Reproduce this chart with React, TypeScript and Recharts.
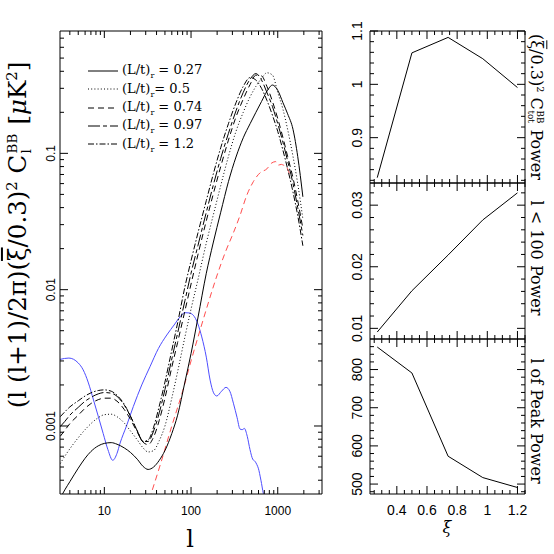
import React from 'react';
import { LineChart, Line, XAxis, YAxis, Legend } from 'recharts';

// multipoles shared by the five (L/t)_r curves
const ells = [3.1, 3.5, 4, 5, 6, 7, 8.5, 10, 12, 14, 17, 20, 24, 28, 32, 37, 43, 50, 60, 70, 85, 100, 120, 150, 180, 220, 270, 330, 400, 480, 560, 650, 750, 870, 1000, 1150, 1300, 1500, 1700, 1950];
const lt027 = [2.95e-4, 3.4e-4, 3.9e-4, 4.9e-4, 5.8e-4, 6.5e-4, 7.15e-4, 7.45e-4, 7.55e-4, 7.35e-4, 6.9e-4, 6.4e-4, 5.7e-4, 5.05e-4, 4.8e-4, 5.0e-4, 5.6e-4, 6.6e-4, 8.8e-4, 1.2e-3, 2.1e-3, 3.4e-3, 6.2e-3, 0.0132, 0.022, 0.037, 0.062, 0.094, 0.13, 0.165, 0.2, 0.24, 0.285, 0.317, 0.29, 0.235, 0.195, 0.15, 0.095, 0.048];
const lt05 = [5.3e-4, 6.0e-4, 6.8e-4, 8.2e-4, 9.4e-4, 1.04e-3, 1.15e-3, 1.21e-3, 1.22e-3, 1.17e-3, 1.05e-3, 9.2e-4, 7.9e-4, 6.9e-4, 6.45e-4, 6.6e-4, 7.8e-4, 1.0e-3, 1.6e-3, 2.5e-3, 4.5e-3, 7.2e-3, 0.0118, 0.022, 0.035, 0.058, 0.095, 0.145, 0.2, 0.26, 0.31, 0.355, 0.39, 0.375, 0.28, 0.21, 0.15, 0.095, 0.06, 0.033];
const lt074 = [8.4e-4, 9.3e-4, 1.04e-3, 1.2e-3, 1.35e-3, 1.46e-3, 1.56e-3, 1.6e-3, 1.6e-3, 1.52e-3, 1.32e-3, 1.12e-3, 9.0e-4, 7.6e-4, 7.3e-4, 8.3e-4, 1.1e-3, 1.6e-3, 2.7e-3, 4.1e-3, 7.0e-3, 0.011, 0.018, 0.032, 0.05, 0.08, 0.125, 0.185, 0.25, 0.32, 0.375, 0.37, 0.31, 0.24, 0.18, 0.13, 0.095, 0.066, 0.045, 0.028];
const lt097 = [9.9e-4, 1.08e-3, 1.2e-3, 1.37e-3, 1.52e-3, 1.62e-3, 1.72e-3, 1.76e-3, 1.74e-3, 1.65e-3, 1.42e-3, 1.18e-3, 9.2e-4, 7.7e-4, 7.7e-4, 9.2e-4, 1.25e-3, 1.85e-3, 3.1e-3, 4.8e-3, 8.3e-3, 0.0132, 0.021, 0.037, 0.058, 0.092, 0.14, 0.205, 0.28, 0.35, 0.385, 0.345, 0.28, 0.22, 0.165, 0.12, 0.088, 0.06, 0.04, 0.025];
const lt12 = [1.17e-3, 1.27e-3, 1.38e-3, 1.53e-3, 1.66e-3, 1.75e-3, 1.82e-3, 1.84e-3, 1.8e-3, 1.68e-3, 1.44e-3, 1.18e-3, 9.2e-4, 7.7e-4, 7.9e-4, 9.8e-4, 1.4e-3, 2.1e-3, 3.6e-3, 5.7e-3, 0.0105, 0.0163, 0.026, 0.045, 0.07, 0.11, 0.165, 0.235, 0.31, 0.36, 0.345, 0.3, 0.245, 0.19, 0.145, 0.105, 0.077, 0.052, 0.035, 0.021];

// blue reference spectrum
const blueEll = [3.08, 3.9, 5, 5.7, 6.5, 7.5, 8.5, 9.7, 11, 12.5, 14, 15.2, 18, 21.6, 27, 33.6, 42, 52.5, 65, 75, 85, 95, 106, 120, 133, 150, 166, 182, 198, 225, 253, 280, 308, 340, 367, 390, 412, 445, 479, 515, 547, 575, 597, 640, 682, 720];
const blueVals = [3.08e-3, 3.15e-3, 2.9e-3, 2.58e-3, 2.1e-3, 1.55e-3, 1.18e-3, 8.8e-4, 6.7e-4, 5.6e-4, 6.3e-4, 7.5e-4, 1.0e-3, 1.39e-3, 2.0e-3, 2.72e-3, 3.7e-3, 4.65e-3, 5.6e-3, 6.34e-3, 6.78e-3, 6.75e-3, 6.5e-3, 5.6e-3, 4.5e-3, 3.2e-3, 2.17e-3, 1.75e-3, 1.66e-3, 1.8e-3, 1.92e-3, 1.8e-3, 1.47e-3, 1.15e-3, 9.5e-4, 9.4e-4, 9.6e-4, 8.4e-4, 6.7e-4, 5.7e-4, 5.5e-4, 5.2e-4, 4.9e-4, 4.0e-4, 3.2e-4, 2.8e-4];

// red dashed curve
const redEll = [33, 45, 60, 80, 100, 130, 160, 200, 250, 307, 367, 438, 523, 625, 750, 853, 950, 1016, 1100, 1161, 1250, 1387];
const redVals = [2.9e-4, 5.4e-4, 1.0e-3, 1.8e-3, 3.0e-3, 5.3e-3, 8.2e-3, 0.0128, 0.019, 0.026, 0.035, 0.049, 0.062, 0.072, 0.077, 0.085, 0.087, 0.082, 0.083, 0.082, 0.08, 0.069];

// right-hand panels
const xi = [0.27, 0.5, 0.74, 0.97, 1.2];
const totPower = [0.825, 1.059, 1.088, 1.048, 0.994];
const lowPower = [0.0094, 0.0161, 0.0219, 0.0276, 0.032];
const peakEll = [859, 791, 573, 517, 491];

const legendNames = ['0.27', '0.5', '0.74', '0.97', '1.2'];
const legendEq = [' = ', '= ', ' = ', ' = ', ' = '];
const dashes = [undefined, '1 2.2', '6 4', '12 3 4 3', '6 2 1.5 2'];

const logXTicks = [4, 5, 6, 7, 8, 9, 10, 20, 30, 40, 50, 60, 70, 80, 90, 100, 200, 300, 400, 500, 600, 700, 800, 900, 1000, 2000, 3000];
const logXMajors = [10, 100, 1000];
const logYTicks = [4e-4, 5e-4, 6e-4, 7e-4, 8e-4, 9e-4, 0.001, 0.002, 0.003, 0.004, 0.005, 0.006, 0.007, 0.008, 0.009, 0.01, 0.02, 0.03, 0.04, 0.05, 0.06, 0.07, 0.08, 0.09, 0.1, 0.2, 0.3, 0.4, 0.5, 0.6, 0.7];
const logYMajors = [0.001, 0.01, 0.1];

const xiTicks = [0.25, 0.3, 0.35, 0.4, 0.45, 0.5, 0.55, 0.6, 0.65, 0.7, 0.75, 0.8, 0.85, 0.9, 0.95, 1, 1.05, 1.1, 1.15, 1.2, 1.25];
const xiMajors = [0.4, 0.6, 0.8, 1, 1.2];
const totTicks = [0.82, 0.84, 0.86, 0.88, 0.9, 0.92, 0.94, 0.96, 0.98, 1, 1.02, 1.04, 1.06, 1.08, 1.1];
const totMajors = [0.9, 1, 1.1];
const lowTicks = [0.01, 0.012, 0.014, 0.016, 0.018, 0.02, 0.022, 0.024, 0.026, 0.028, 0.03, 0.032];
const lowMajors = [0.01, 0.02, 0.03];
const peakTicks = [480, 500, 520, 540, 560, 580, 600, 620, 640, 660, 680, 700, 720, 740, 760, 780, 800, 820, 840, 860];
const peakMajors = [500, 600, 700, 800];

const blackData = ells.map((l, i) => ({ l, a: lt027[i], b: lt05[i], c: lt074[i], d: lt097[i], e: lt12[i] }));
const blueData = blueEll.map((l, i) => ({ l, v: blueVals[i] }));
const redData = redEll.map((l, i) => ({ l, v: redVals[i] }));
const xiData = xi.map((x, i) => ({ x, tot: totPower[i], low: lowPower[i], peak: peakEll[i] }));

const SANS = '"Liberation Sans", Arial, sans-serif';
const SERIF = '"DejaVu Serif", serif';

const isIn = (v: number, arr: number[]) => arr.some((m) => Math.abs(m - v) <= 1e-6 * Math.abs(m));

type TickOpts = {
  side: 'bottom' | 'top' | 'left' | 'right';
  majors: number[];
  big: number;
  small: number;
  label?: boolean;
  offset?: number;
  fontSize?: number;
};

// tick marks point into the frame, labels sit outside it
function makeTick(o: TickOpts) {
  return (p: any) => {
    const { x, y, payload } = p;
    const v = payload.value;
    const major = isIn(v, o.majors);
    const len = major ? o.big : o.small;
    let x2 = x;
    let y2 = y;
    if (o.side === 'bottom') y2 = y - len;
    if (o.side === 'top') y2 = y + len;
    if (o.side === 'left') x2 = x + len;
    if (o.side === 'right') x2 = x - len;
    let text = null;
    if (o.label && major) {
      if (o.side === 'bottom') {
        text = (
          <text x={x} y={y + (o.offset || 20)} textAnchor="middle" fontSize={o.fontSize || 12} fontFamily={SANS} fill="#000">
            {String(v)}
          </text>
        );
      } else if (o.side === 'left') {
        const tx = x - (o.offset || 6);
        text = (
          <text x={tx} y={y} transform={`rotate(-90 ${tx} ${y})`} textAnchor="middle" fontSize={o.fontSize || 12} fontFamily={SANS} fill="#000">
            {String(v)}
          </text>
        );
      }
    }
    return (
      <g>
        <line x1={x} y1={y} x2={x2} y2={y2} stroke="#000" strokeWidth={1} />
        {text}
      </g>
    );
  };
}

const axisCommon = {
  tickLine: false,
  tickSize: 0,
  tickMargin: 0,
  interval: 0 as const,
  allowDataOverflow: true,
  axisLine: { stroke: '#000', strokeWidth: 1 },
};

function LegendBox() {
  return (
    <div style={{ fontFamily: SERIF, fontSize: 13, color: '#000' }}>
      {legendNames.map((n, i) => (
        <div key={n} style={{ display: 'flex', alignItems: 'center', height: 18.3, whiteSpace: 'pre' }}>
          <svg width={36} height={10}>
            <line x1={2} y1={5} x2={32} y2={5} stroke="#000" strokeWidth={1} strokeDasharray={dashes[i]} />
          </svg>
          <span>
            (L/t)<sub style={{ fontSize: 8 }}>r</sub>
            {legendEq[i]}
            {n}
          </span>
        </div>
      ))}
    </div>
  );
}

function Rot({ cx, cy, angle, children, style }: any) {
  return (
    <div
      style={{
        position: 'absolute',
        left: cx,
        top: cy,
        transform: `translate(-50%, -50%) rotate(${angle}deg)`,
        whiteSpace: 'nowrap',
        lineHeight: 1,
        color: '#000',
        ...style,
      }}
    >
      {children}
    </div>
  );
}

function Stack({ sup, sub }: { sup: string; sub: string }) {
  return (
    <span
      style={{
        display: 'inline-flex',
        flexDirection: 'column',
        fontSize: '0.55em',
        lineHeight: 1,
        verticalAlign: 'middle',
        margin: '0 0.1em',
      }}
    >
      <span>{sup}</span>
      <span>{sub}</span>
    </span>
  );
}

// axes are 1px deep, so margins are 1px short of the frame
function SidePanel({ dataKey, top, bottom, domain, yTicks, yMajors, showX }: any) {
  return (
    <div style={{ position: 'absolute', left: 0, top: 0 }}>
      <LineChart width={554} height={554} data={xiData} margin={{ top: top - 1, left: 369, right: 28, bottom: 553 - bottom }}>
        <XAxis
          xAxisId="b"
          dataKey="x"
          type="number"
          domain={[0.222, 1.25]}
          ticks={xiTicks}
          height={1}
          {...axisCommon}
          tick={makeTick({ side: 'bottom', majors: xiMajors, big: 8, small: 4, label: showX, offset: 21, fontSize: 14 })}
        />
        <XAxis
          xAxisId="t"
          orientation="top"
          dataKey="x"
          type="number"
          domain={[0.222, 1.25]}
          ticks={xiTicks}
          height={1}
          {...axisCommon}
          tick={makeTick({ side: 'top', majors: xiMajors, big: 8, small: 4 })}
        />
        <YAxis
          yAxisId="l"
          type="number"
          domain={domain}
          ticks={yTicks}
          width={1}
          {...axisCommon}
          tick={makeTick({ side: 'left', majors: yMajors, big: 8, small: 4, label: true, offset: 8, fontSize: 14 })}
        />
        <YAxis
          yAxisId="r"
          orientation="right"
          type="number"
          domain={domain}
          ticks={yTicks}
          width={1}
          {...axisCommon}
          tick={makeTick({ side: 'right', majors: yMajors, big: 8, small: 4 })}
        />
        <Line xAxisId="b" yAxisId="l" dataKey={dataKey} stroke="#000" strokeWidth={1} dot={false} isAnimationActive={false} type="linear" />
      </LineChart>
    </div>
  );
}

export default function App() {
  const lines = ['a', 'b', 'c', 'd', 'e'];
  return (
    <div style={{ position: 'absolute', left: 0, top: 0, width: 554, height: 554, background: '#fff', overflow: 'hidden' }}>
      <div style={{ position: 'absolute', left: 0, top: 0 }}>
        <LineChart width={554} height={554} data={blackData} margin={{ top: 30, left: 59, right: 231, bottom: 59 }}>
          <XAxis
            xAxisId="b"
            dataKey="l"
            type="number"
            scale="log"
            domain={[3.08, 3240]}
            ticks={logXTicks}
            height={1}
            {...axisCommon}
            tick={makeTick({ side: 'bottom', majors: logXMajors, big: 7, small: 4, label: true, offset: 21, fontSize: 12 })}
          />
          <XAxis
            xAxisId="t"
            orientation="top"
            dataKey="l"
            type="number"
            scale="log"
            domain={[3.08, 3240]}
            ticks={logXTicks}
            height={1}
            {...axisCommon}
            tick={makeTick({ side: 'top', majors: logXMajors, big: 7, small: 4 })}
          />
          <YAxis
            yAxisId="l"
            type="number"
            scale="log"
            domain={[3.17e-4, 0.79]}
            ticks={logYTicks}
            width={1}
            {...axisCommon}
            tick={makeTick({ side: 'left', majors: logYMajors, big: 8, small: 4, label: true, offset: 5, fontSize: 12 })}
          />
          <YAxis
            yAxisId="r"
            orientation="right"
            type="number"
            scale="log"
            domain={[3.17e-4, 0.79]}
            ticks={logYTicks}
            width={1}
            {...axisCommon}
            tick={makeTick({ side: 'right', majors: logYMajors, big: 8, small: 4 })}
          />
          <Line xAxisId="b" yAxisId="l" data={blueData} dataKey="v" stroke="#4d4dff" strokeWidth={1} dot={false} isAnimationActive={false} type="monotone" legendType="none" />
          <Line xAxisId="b" yAxisId="l" data={redData} dataKey="v" stroke="#ff4d4d" strokeWidth={1} strokeDasharray="6 4" dot={false} isAnimationActive={false} type="monotone" legendType="none" />
          {lines.map((k, i) => (
            <Line
              key={k}
              xAxisId="b"
              yAxisId="l"
              dataKey={k}
              name={legendNames[i]}
              stroke="#000"
              strokeWidth={1}
              strokeDasharray={dashes[i]}
              dot={false}
              isAnimationActive={false}
              type="monotone"
            />
          ))}
          <Legend
            layout="vertical"
            verticalAlign="middle"
            align="center"
            wrapperStyle={{ left: 86, top: 62, width: 170, height: 95 }}
            content={() => <LegendBox />}
          />
        </LineChart>
      </div>

      <SidePanel dataKey="tot" top={31} bottom={183} domain={[0.815, 1.1]} yTicks={totTicks} yMajors={totMajors} showX={false} />
      <SidePanel dataKey="low" top={183} bottom={339} domain={[0.00827, 0.0336]} yTicks={lowTicks} yMajors={lowMajors} showX={false} />
      <SidePanel dataKey="peak" top={339} bottom={494} domain={[474, 880]} yTicks={peakTicks} yMajors={peakMajors} showX={true} />

      <Rot cx={19} cy={235} angle={-90} style={{ fontFamily: SERIF, fontSize: 24.5 }}>
        (l (l+1)/2π)(<span style={{ textDecoration: 'overline' }}>ξ</span>/0.3)<sup style={{ fontSize: '0.6em' }}>2</sup>
        {'  '}C<Stack sup="BB" sub="l" />{'  '}[<i>μ</i>K<sup style={{ fontSize: '0.6em' }}>2</sup>]
      </Rot>
      <Rot cx={190} cy={539} angle={0} style={{ fontFamily: SERIF, fontSize: 24 }}>
        l
      </Rot>
      <Rot cx={447} cy={528} angle={0} style={{ fontFamily: SERIF, fontSize: 16, fontStyle: 'italic' }}>
        ξ
      </Rot>
      <Rot cx={536} cy={107} angle={90} style={{ fontFamily: SERIF, fontSize: 16 }}>
        (<span style={{ textDecoration: 'overline' }}>ξ</span>/0.3)<sup style={{ fontSize: '0.6em' }}>2</sup> C<Stack sup="BB" sub="tot" /> Power
      </Rot>
      <Rot cx={536} cy={258} angle={90} style={{ fontFamily: SERIF, fontSize: 16 }}>
        l &lt; 100 Power
      </Rot>
      <Rot cx={536} cy={421} angle={90} style={{ fontFamily: SERIF, fontSize: 16 }}>
        l of Peak Power
      </Rot>
    </div>
  );
}
